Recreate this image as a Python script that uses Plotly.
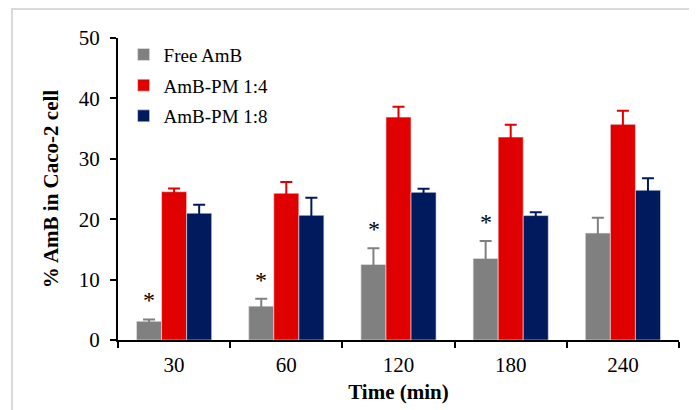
import plotly.graph_objects as go

categories = ["30", "60", "120", "180", "240"]
free_amb = [3.1, 5.6, 12.5, 13.5, 17.7]
free_amb_err = [0.3, 1.25, 2.7, 2.9, 2.55]
pm14 = [24.55, 24.3, 36.9, 33.6, 35.7]
pm14_err = [0.55, 1.85, 1.7, 2.05, 2.25]
pm18 = [21.0, 20.65, 24.45, 20.6, 24.8]
pm18_err = [1.4, 2.9, 0.6, 0.55, 2.0]
significant = [True, True, True, True, False]

series = [
    ("Free AmB", free_amb, free_amb_err, "#808080"),
    ("AmB-PM 1:4", pm14, pm14_err, "#E00000"),
    ("AmB-PM 1:8", pm18, pm18_err, "#001A5E"),
]

FONT = "Liberation Serif"

fig = go.Figure()
for name, vals, errs, col in series:
    fig.add_trace(go.Bar(
        name=name, x=categories, y=vals, legendgroup=name,
        marker=dict(color=col, line=dict(width=0.6, color="#e6e8ee")),
        error_y=dict(type="data", array=errs, visible=True, color=col,
                     thickness=2, width=6),
    ))

annotations = []
for i, (v, e, s) in enumerate(zip(free_amb, free_amb_err, significant)):
    if s:
        annotations.append(dict(
            x=i, y=v + e, xref="x", yref="y", text="*", showarrow=False,
            xshift=-25, yanchor="bottom", yshift=4,
            font=dict(family=FONT, size=24, color="black"),
        ))

fig.update_layout(
    width=689, height=402,
    margin=dict(l=110, r=18, t=30, b=70, autoexpand=False),
    paper_bgcolor="white", plot_bgcolor="white",
    barmode="group", bargap=0.33, bargroupgap=0,
    font=dict(family=FONT, size=20, color="black"),
    legend=dict(x=0.01, y=1.008, xanchor="left", yanchor="top",
                font=dict(family=FONT, size=19, color="black"),
                bgcolor="rgba(0,0,0,0)", itemwidth=30,
                traceorder="grouped", tracegroupgap=3),
    annotations=annotations,
    shapes=[dict(type="rect", xref="paper", yref="paper",
                 x0=-0.189, x1=1.05, y0=-0.3, y1=1.096,
                 line=dict(color="#d9d9d9", width=2), layer="below")],
)
fig.update_xaxes(
    type="category", range=[-0.5, len(categories) - 0.5], automargin=False,
    showline=True, linecolor="black", linewidth=2,
    ticks="outside", ticklen=6, tickwidth=2, tickcolor="black",
    tickson="boundaries", ticklabelstandoff=5,
    tickfont=dict(family=FONT, size=21),
    title=dict(text="<b>Time (min)</b>", font=dict(family=FONT, size=21), standoff=8),
)
fig.update_yaxes(
    range=[0, 50], dtick=10, automargin=False,
    showline=True, linecolor="black", linewidth=2,
    ticks="outside", ticklen=6, tickwidth=2, tickcolor="black",
    showgrid=False, zeroline=False, ticklabelstandoff=6,
    tickfont=dict(family=FONT, size=21),
    title=dict(text="<b>% AmB in Caco-2 cell</b>", font=dict(family=FONT, size=21), standoff=14),
)

fig.write_html("out.html")
